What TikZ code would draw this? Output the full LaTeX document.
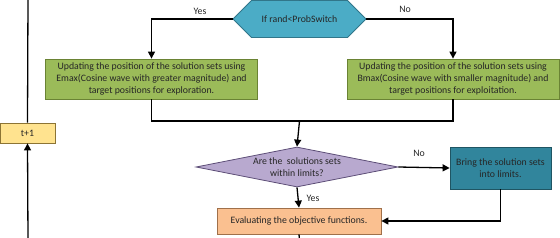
\documentclass[tikz,border=0pt]{standalone}
\usepackage{fontspec}
\setmainfont{Carlito}
\usetikzlibrary{arrows.meta,shapes.geometric,shapes.misc}
\definecolor{hexfill}{HTML}{4BACC6}
\definecolor{hexline}{HTML}{31768A}
\definecolor{greenfill}{HTML}{9BBB59}
\definecolor{greenline}{HTML}{6A8334}
\definecolor{lilacfill}{HTML}{B8A9CF}
\definecolor{lilacline}{HTML}{5E4F78}
\definecolor{tealfill}{HTML}{31859C}
\definecolor{tealline}{HTML}{1F5563}
\definecolor{peachfill}{HTML}{FAC090}
\definecolor{peachline}{HTML}{A0704A}
\definecolor{yellowfill}{HTML}{FFE38F}
\definecolor{yellowline}{HTML}{8C7434}
\begin{document}
\begin{tikzpicture}[x=1pt, y=-1pt, font=\fontsize{9.8}{12}\selectfont, text=black!85,
  box/.style={draw, line width=0.8pt, inner sep=0pt, align=center},
  flow/.style={line width=1.3pt, -{Triangle[width=7pt,length=7pt]}},
  plain/.style={line width=1.3pt}]
\useasboundingbox (0,0) rectangle (560,238);
\node[box, fill=hexfill, draw=hexline, chamfered rectangle, chamfered rectangle xsep=19pt, chamfered rectangle ysep=15pt, minimum width=133pt, minimum height=30pt] (switch) at (299.5,19) {If rand<ProbSwitch};
\node[box, fill=greenfill, draw=greenline, minimum width=212pt, minimum height=40pt] (explore) at (151.5,79) {Updating the position of the solution sets using\\Emax(Cosine wave with greater magnitude) and\\target positions for exploration.};
\node[box, fill=greenfill, draw=greenline, minimum width=212pt, minimum height=40pt] (exploit) at (453,79) {Updating the position of the solution sets using\\Bmax(Cosine wave with smaller magnitude) and\\target positions for exploitation.};
\node[box, fill=lilacfill, draw=lilacline, diamond, aspect=5, minimum width=202pt, minimum height=40pt] (limits) at (297,167) {Are the\ \ solutions sets\\within limits?};
\node[box, fill=tealfill, draw=tealline, minimum width=101pt, minimum height=42pt] (bring) at (500.5,168) {Bring the solution sets\\into limits.};
\node[box, fill=peachfill, draw=peachline, minimum width=164pt, minimum height=26pt] (evaluate) at (299,221) {Evaluating the objective functions.};
\node[box, fill=yellowfill, draw=yellowline, minimum width=55pt, minimum height=20pt] (iter) at (27.5,133) {t+1};
\coordinate (top) at (299.5,-2);
\coordinate (merge) at (299.5,121);
\coordinate (bottom) at (299.5,240);
\coordinate (looptop) at (28,-2);
\coordinate (loopbottom) at (28,240);
\draw[flow] (top) -- (switch);
\draw[flow] (switch.west) -| (explore.north);
\draw[flow] (switch.east) -| (exploit.north);
\draw[plain] (explore.south) |- (merge) -| (exploit.south);
\draw[flow] (merge) -- (limits.north);
\draw[flow] (limits.east) -- (bring.west);
\draw[flow] (limits.south) -- (evaluate.north);
\draw[flow] (bring.south) |- (evaluate.east);
\draw[plain] (evaluate.south) -- (bottom);
\draw[flow] (loopbottom) -- (iter.south);
\draw[plain] (iter.north) -- (looptop);
\node at (200,11) {Yes};
\node at (405,9) {No};
\node at (419,153) {No};
\node at (313,198) {Yes};
\end{tikzpicture}
\end{document}
